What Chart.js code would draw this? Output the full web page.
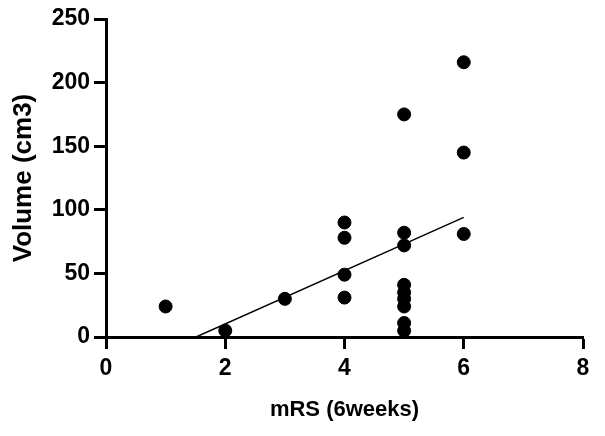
<!DOCTYPE html>
<html>
<head>
<meta charset="utf-8">
<script src="https://cdn.jsdelivr.net/npm/chart.js@4/dist/chart.umd.min.js"></script>
<style>
  body { margin: 0; background: #fff; }
</style>
</head>
<body>
<canvas id="scatterChart" width="605" height="436"></canvas>
<script>
/* mRS vs volume scatter */

// mRS score at 6 weeks, one entry per patient
let mrsValues = [1, 2, 3, 4, 4, 4, 4, 5, 5, 5, 5, 5, 5, 5, 5, 5, 6, 6, 6];
// volume in cm3
let volumeValues = [24, 5, 30, 90, 78, 49, 31, 175, 82, 72, 41, 35, 30, 24, 11, 5, 216, 145, 81];

// fitted line end points
let fitX = [1.51, 6];
let fitY = [0, 94];

let xTicks = [0, 2, 4, 6, 8];
let yTicks = [0, 50, 100, 150, 200, 250];

let points = mrsValues.map((x, i) => ({ x: x, y: volumeValues[i] }));
let fitLine = fitX.map((x, i) => ({ x: x, y: fitY[i] }));

let tickFont = { family: 'Liberation Sans', size: 23, weight: 'bold' };
let xTitleFont = { family: 'Liberation Sans', size: 22, weight: 'bold' };
let yTitleFont = { family: 'Liberation Sans', size: 26, weight: 'bold' };

let ctx = document.getElementById('scatterChart').getContext('2d');

let chart = new Chart(ctx, {
    type: 'scatter',
    data: {
        datasets: [{
            label: 'Volume',
            data: points,
            backgroundColor: '#000',
            borderColor: '#000',
            pointRadius: 6.5,
            pointHoverRadius: 6.5
        }, {
            type: 'line',
            label: 'Fit',
            data: fitLine,
            borderColor: '#000',
            borderWidth: 1.5,
            pointRadius: 0,
            fill: false
        }]
    },
    options: {
        responsive: false,
        animation: false,
        layout: { padding: { top: 19, right: 22, left: 0, bottom: 0 } },
        plugins: {
            legend: { display: false },
            tooltip: { enabled: false }
        },
        scales: {
            x: {
                type: 'linear',
                min: 0,
                max: 8,
                afterBuildTicks: (scale) => { scale.ticks = xTicks.map(v => ({ value: v })); },
                afterFit: (scale) => { scale.height = 99; },
                grid: { drawOnChartArea: false, drawTicks: true, tickLength: 12, tickColor: '#000', tickWidth: 3 },
                border: { display: true, color: '#000', width: 3 },
                ticks: { color: '#000', font: tickFont, padding: 6, maxRotation: 0 },
                title: { display: true, text: 'mRS (6weeks)', color: '#000', font: xTitleFont, padding: { top: 0, bottom: 13 } }
            },
            y: {
                type: 'linear',
                min: 0,
                max: 250,
                afterBuildTicks: (scale) => { scale.ticks = yTicks.map(v => ({ value: v })); },
                afterFit: (scale) => { scale.width = 106; },
                grid: { drawOnChartArea: false, drawTicks: true, tickLength: 12, tickColor: '#000', tickWidth: 3 },
                border: { display: true, color: '#000', width: 3 },
                ticks: { color: '#000', font: tickFont, padding: 4 },
                title: { display: true, text: 'Volume (cm3)', color: '#000', font: yTitleFont, padding: { top: 8, bottom: 0 } }
            }
        }
    }
});
</script>
</body>
</html>
